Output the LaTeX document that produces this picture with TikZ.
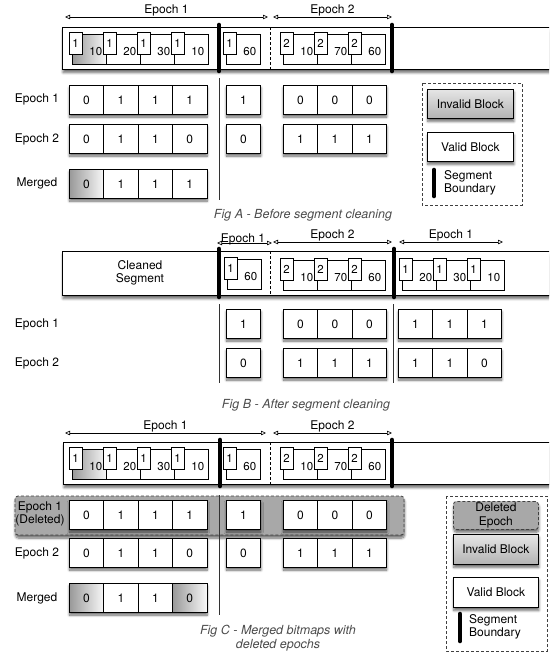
\documentclass[tikz,border=0pt]{standalone}
\usepackage{fontspec}
\setmainfont{TeX Gyre Heros}
\usetikzlibrary{arrows.meta,shadows.blur}
\tikzset{
  every node/.style={font=\fontsize{12}{13.5}\selectfont},
  sh/.style={blur shadow={shadow xshift=0.5pt, shadow yshift=-3pt, shadow blur radius=2.5pt, shadow blur steps=8, shadow opacity=60}},
  cell/.style={draw, line width=0.75pt, fill=white, minimum width=34.4, minimum height=29, inner sep=0pt, anchor=north west},
  inv/.style={left color=black!40, right color=black!3},
  val/.style={},
  rowbg/.style={fill=white, sh},
  seg/.style={draw, line width=1pt, fill=white, sh, minimum width=500, minimum height=42, inner sep=0pt, anchor=north west},
  body/.style={draw, line width=0.65pt, fill=white, minimum width=34, minimum height=30, inner sep=0pt, anchor=north west},
  tagbox/.style={draw, line width=0.65pt, fill=white, minimum width=12.5, minimum height=22, inner sep=0pt, anchor=north west, font=\fontsize{11.5}{13}\selectfont},
  valtxt/.style={inner sep=0pt, font=\fontsize{11.5}{13}\selectfont},
  span/.style={line width=0.6pt, arrows={Triangle[open,length=5pt,width=4.5pt]-Triangle[open,length=5pt,width=4.5pt]}},
  elab/.style={above, inner sep=0.5pt},
  boundary/.style={line width=4.6pt, line cap=round},
  dsep/.style={line width=0.6pt, dash pattern=on 3pt off 2pt},
  vsep/.style={line width=0.7pt, black!80},
  rlab/.style={inner sep=0pt},
  legframe/.style={line width=0.8pt, black!75, dash pattern=on 3pt off 2pt},
  legbox/.style={draw, line width=0.75pt, fill=white, sh, minimum width=86, minimum height=29, inner sep=0pt, anchor=north west},
  invleg/.style={top color=black!10, bottom color=black!30},
  delfill/.style={draw=black!75, fill=black!34, dash pattern=on 3pt off 2pt, line width=0.8pt, rounded corners=3pt},
  figcap/.style={font=\fontsize{12.5}{14.5}\selectfont\itshape, text=black!70, align=center, inner sep=0pt},
}
\newcommand\bitrow[5]{%
  \path[rowbg] (#2,#3) rectangle ++({34.4*#4},29);
  \foreach \v/\st [count=\i from 0] in {#5} {%
    \node[cell,\st] (#1-\i) at ({#2+34.4*\i},#3) {\v};}%
}
\newcommand\blk[6]{%
  \node[body,#6] (#1) at (#2,#3) {};
  \node[tagbox] (#1t) at ({#2-3},{#3-2}) {#4};
  \node[valtxt] (#1v) at ([xshift=6.5pt, yshift=-2pt]#1.center) {#5};
}
\begin{document}
\begin{tikzpicture}[x=1pt,y=-1pt]
\useasboundingbox (0,0) rectangle (549,653);
\clip (0,0) rectangle (549,653);

%%%%%%%%%%%%%%%% Fig A
\coordinate (eA1l) at (65,17); \coordinate (eA1r) at (268,17);
\draw[span] (eA1l) -- node[elab] (lA1) {Epoch 1} (eA1r);
\coordinate (eA2l) at (273,17); \coordinate (eA2r) at (392,17);
\draw[span] (eA2l) -- node[elab] (lA2) {Epoch 2} (eA2r);

\node[seg] (segA) at (62,27) {};
\coordinate (dAt) at (270,27); \coordinate (dAb) at (270,69);
\draw[dsep] (dAt) -- (dAb);
\blk{a1}{72}{34}{1}{10}{inv}
\blk{a2}{106}{34}{1}{20}{val}
\blk{a3}{140}{34}{1}{30}{val}
\blk{a4}{174}{34}{1}{10}{val}
\blk{a5}{226}{34}{1}{60}{val}
\blk{a6}{283}{34}{2}{10}{val}
\blk{a7}{317}{34}{2}{70}{val}
\blk{a8}{351}{34}{2}{60}{val}
\coordinate (bA1t) at (219,25); \coordinate (bA1b) at (219,71);
\draw[boundary] (bA1t) -- (bA1b);
\coordinate (bA2t) at (392,25); \coordinate (bA2b) at (392,71);
\draw[boundary] (bA2t) -- (bA2b);

\node[rlab] (rA1) at (37,99) {Epoch 1};
\node[rlab] (rA2) at (37,139) {Epoch 2};
\node[rlab] (rA3) at (37,183) {Merged};
\bitrow{A1}{69}{85}{4}{0/val,1/val,1/val,1/val}
\bitrow{A2}{69}{124}{4}{0/val,1/val,1/val,0/val}
\bitrow{A3}{69}{169}{4}{0/inv,1/val,1/val,1/val}
\bitrow{A1s}{226}{85}{1}{1/val}
\bitrow{A2s}{226}{124}{1}{0/val}
\bitrow{A1e}{283}{85}{3}{0/val,0/val,0/val}
\bitrow{A2e}{283}{124}{3}{1/val,1/val,1/val}
\coordinate (vAt) at (219,78); \coordinate (vAb) at (219,200);
\draw[vsep] (vAt) -- (vAb);

\coordinate (gA1) at (422,83); \coordinate (gA2) at (522,205);
\draw[legframe] (gA1) rectangle (gA2);
\node[legbox,invleg] (invA) at (427,89) {Invalid Block};
\node[legbox] (valA) at (427,132) {Valid Block};
\coordinate (sbAt) at (434,170); \coordinate (sbAb) at (434,196);
\draw[boundary] (sbAt) -- (sbAb);
\node[anchor=west, align=left, inner sep=0pt] (sbAl) at (444,183) {Segment\\Boundary};

\node[figcap] (capA) at (303,215) {Fig A - Before segment cleaning};

%%%%%%%%%%%%%%%% Fig B
\coordinate (eB1l) at (217,243); \coordinate (eB1r) at (272,243);
\draw[span] (eB1l) -- (eB1r);
\node[inner sep=0pt] (lB1) at (243,239) {Epoch 1};
\coordinate (eB2l) at (273,242); \coordinate (eB2r) at (392,242);
\draw[span] (eB2l) -- node[elab] (lB2) {Epoch 2} (eB2r);
\coordinate (eB3l) at (399,242); \coordinate (eB3r) at (503,242);
\draw[span] (eB3l) -- node[elab] (lB3) {Epoch 1} (eB3r);

\node[seg, minimum height=44] (segB) at (62,251) {};
\node[align=center, inner sep=0pt] (clean) at (140,273) {Cleaned\\Segment};
\coordinate (dBt) at (270,251); \coordinate (dBb) at (270,295);
\draw[dsep] (dBt) -- (dBb);
\blk{b1}{227}{259}{1}{60}{val}
\blk{b2}{283}{260}{2}{10}{val}
\blk{b3}{317}{260}{2}{70}{val}
\blk{b4}{351}{260}{2}{60}{val}
\blk{b5}{402}{260}{1}{20}{val}
\blk{b6}{436}{260}{1}{30}{val}
\blk{b7}{470}{260}{1}{10}{val}
\coordinate (bB1t) at (219,249); \coordinate (bB1b) at (219,297);
\draw[boundary] (bB1t) -- (bB1b);
\coordinate (bB2t) at (394,249); \coordinate (bB2b) at (394,297);
\draw[boundary] (bB2t) -- (bB2b);

\node[rlab] (rB1) at (37,324) {Epoch 1};
\node[rlab] (rB2) at (37,363) {Epoch 2};
\bitrow{B1s}{226}{309}{1}{1/val}
\bitrow{B2s}{226}{348}{1}{0/val}
\bitrow{B1e}{283}{309}{3}{0/val,0/val,0/val}
\bitrow{B2e}{283}{348}{3}{1/val,1/val,1/val}
\bitrow{B1f}{398}{309}{3}{1/val,1/val,1/val}
\bitrow{B2f}{398}{348}{3}{1/val,1/val,0/val}
\coordinate (vB1t) at (219,304); \coordinate (vB1b) at (219,383);
\draw[vsep] (vB1t) -- (vB1b);
\coordinate (vB2t) at (393,304); \coordinate (vB2b) at (393,383);
\draw[vsep] (vB2t) -- (vB2b);

\node[figcap] (capB) at (306,405) {Fig B - After segment cleaning};

%%%%%%%%%%%%%%%% Fig C
\coordinate (eC1l) at (65,433); \coordinate (eC1r) at (266,433);
\draw[span] (eC1l) -- node[elab] (lC1) {Epoch 1} (eC1r);
\coordinate (eC2l) at (273,433); \coordinate (eC2r) at (392,433);
\draw[span] (eC2l) -- node[elab] (lC2) {Epoch 2} (eC2r);

\node[seg] (segC) at (63,442) {};
\coordinate (dCt) at (270,442); \coordinate (dCb) at (270,484);
\draw[dsep] (dCt) -- (dCb);
\blk{c1}{72}{449}{1}{10}{inv}
\blk{c2}{106}{449}{1}{20}{val}
\blk{c3}{140}{449}{1}{30}{val}
\blk{c4}{174}{449}{1}{10}{val}
\blk{c5}{226}{449}{1}{60}{val}
\blk{c6}{283}{449}{2}{10}{val}
\blk{c7}{317}{449}{2}{70}{val}
\blk{c8}{351}{449}{2}{60}{val}
\coordinate (bC1t) at (220,440); \coordinate (bC1b) at (220,486);
\draw[boundary] (bC1t) -- (bC1b);
\coordinate (bC2t) at (392,440); \coordinate (bC2b) at (392,486);
\draw[boundary] (bC2t) -- (bC2b);

\coordinate (band1) at (15,496); \coordinate (band2) at (404,535);
\path[delfill, sh] (band1) rectangle (band2);
\node[align=center, inner sep=0pt] (rC1) at (40,514) {Epoch 1\\(Deleted)};
\bitrow{C1}{69}{500}{4}{0/val,1/val,1/val,1/val}
\bitrow{C1s}{226}{500}{1}{1/val}
\bitrow{C1e}{283}{500}{3}{0/val,0/val,0/val}
\node[rlab] (rC2) at (37,553) {Epoch 2};
\node[rlab] (rC3) at (37,598) {Merged};
\bitrow{C2}{69}{538}{4}{0/val,1/val,1/val,0/val}
\bitrow{C3}{69}{583}{4}{0/inv,1/val,1/val,0/inv}
\bitrow{C2s}{226}{538}{1}{0/val}
\bitrow{C2e}{283}{538}{3}{1/val,1/val,1/val}
\coordinate (vCt) at (219,495); \coordinate (vCb) at (219,615);
\draw[vsep] (vCt) -- (vCb);

\coordinate (gC1) at (446,496); \coordinate (gC2) at (547,651);
\draw[legframe] (gC1) rectangle (gC2);
\node[delfill, sh, minimum width=85, minimum height=28, inner sep=0pt, anchor=north west, align=center] (delC) at (453,501) {Deleted\\Epoch};
\node[legbox,invleg,minimum width=85,minimum height=30] (invC) at (453,534) {Invalid Block};
\node[legbox,minimum width=85,minimum height=30] (valC) at (453,577) {Valid Block};
\coordinate (sbCt) at (460,614); \coordinate (sbCb) at (460,641);
\draw[boundary] (sbCt) -- (sbCb);
\node[anchor=west, align=left, inner sep=0pt] (sbCl) at (469,627) {Segment\\Boundary};

\node[figcap] (capC) at (278,638) {Fig C - Merged bitmaps with\\deleted epochs};
\end{tikzpicture}
\end{document}
